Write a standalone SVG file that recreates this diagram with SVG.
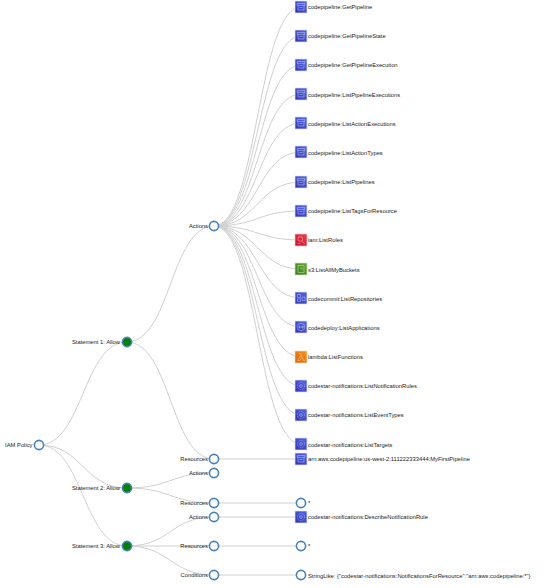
<svg xmlns="http://www.w3.org/2000/svg" width="558" height="588" viewBox="0 0 558 588">
<style>
text{font-family:"Liberation Sans",Arial,sans-serif;font-size:5.8px;fill:#222}
.e{text-anchor:end}
.l{fill:none;stroke:#d0d0d0;stroke-width:1}
.n{fill:#fff;stroke:#4682b4;stroke-width:1.6}
.g{fill:#008000;stroke:#4682b4;stroke-width:1.6}
.i{fill:none;stroke:#fff;stroke-width:.6;opacity:.6}
.b{stroke:#dfe3f7;stroke-width:.7}
</style>
<defs>
<linearGradient id="gb" x1="0" y1="1" x2="1" y2="0"><stop offset="0" stop-color="#3234b0"/><stop offset="1" stop-color="#5468e4"/></linearGradient>
<linearGradient id="gr" x1="0" y1="1" x2="1" y2="0"><stop offset="0" stop-color="#bd0f2a"/><stop offset="1" stop-color="#f2404f"/></linearGradient>
<linearGradient id="gg" x1="0" y1="1" x2="1" y2="0"><stop offset="0" stop-color="#3a7f1a"/><stop offset="1" stop-color="#63a830"/></linearGradient>
<linearGradient id="go" x1="0" y1="1" x2="1" y2="0"><stop offset="0" stop-color="#d85f0c"/><stop offset="1" stop-color="#f6961a"/></linearGradient>
<g id="pipe"><rect class="b" x="-6" y="-6" width="12" height="12" fill="url(#gb)"/><path class="i" d="M-3.800-3.500h7.600v1.800h-7.600zM-3-1.700v4.700h6v-4.700M-1.500.5h3"/></g>
<g id="star"><rect class="b" x="-6" y="-6" width="12" height="12" fill="url(#gb)"/><circle class="i" cx="0" cy="0" r="3.600" stroke-dasharray="1 .8"/><circle class="i" cx="0" cy="0" r="1.400"/></g>
<g id="commit"><rect class="b" x="-6" y="-6" width="12" height="12" fill="url(#gb)"/><path class="i" d="M-3.500-3.500h3v3h-3zM1-1h3v3.500h-3zM-3.500 1h3v2.500h-3z"/></g>
<g id="deploy"><rect class="b" x="-6" y="-6" width="12" height="12" fill="url(#gb)"/><circle class="i" cx="0" cy="0" r="3.800"/><path class="i" d="M-1.500-1.500v3M1.500-1.500v3M-3 0h6"/></g>
<g id="iam"><rect stroke="#f6c4c8" stroke-width=".7" x="-6" y="-6" width="12" height="12" fill="url(#gr)"/><circle class="i" cx="-.8" cy="-1" r="2.400"/><path class="i" d="M.8 1l3 3M-3.500 3.500h3"/></g>
<g id="s3"><rect stroke="#cfe3bf" stroke-width=".7" x="-6" y="-6" width="12" height="12" fill="url(#gg)"/><path class="i" d="M-3-3.500h6v7h-6zM-1-1.500l3 1.500"/></g>
<g id="lam"><rect stroke="#fbd9ac" stroke-width=".7" x="-6" y="-6" width="12" height="12" fill="url(#go)"/><path class="i" d="M-2-3.500h1.500l3 7h1.500M-.5-1l-3 4.500h2.500l1.500-2.500"/></g>
</defs>
<g id="connectors">
<path class="l" d="M39 445C83 445 83 342 127 342"/>
<path class="l" d="M39 445C83 445 83 488 127 488"/>
<path class="l" d="M39 445C83 445 83 546 127 546"/>
<path class="l" d="M127 342C170.500 342 170.500 226 214 226"/>
<path class="l" d="M127 342C170.500 342 170.500 459 214 459"/>
<path class="l" d="M127 488C170.500 488 170.500 473 214 473"/>
<path class="l" d="M127 488C170.500 488 170.500 503 214 503"/>
<path class="l" d="M127 546C170.500 546 170.500 517 214 517"/>
<path class="l" d="M127 546H214"/>
<path class="l" d="M127 546C170.500 546 170.500 575 214 575"/>
<path class="l" d="M214 226C257.500 226 257.500 7 301 7"/>
<path class="l" d="M214 226C257.500 226 257.500 36 301 36"/>
<path class="l" d="M214 226C257.500 226 257.500 65 301 65"/>
<path class="l" d="M214 226C257.500 226 257.500 94 301 94"/>
<path class="l" d="M214 226C257.500 226 257.500 123 301 123"/>
<path class="l" d="M214 226C257.500 226 257.500 152 301 152"/>
<path class="l" d="M214 226C257.500 226 257.500 182 301 182"/>
<path class="l" d="M214 226C257.500 226 257.500 211 301 211"/>
<path class="l" d="M214 226C257.500 226 257.500 240 301 240"/>
<path class="l" d="M214 226C257.500 226 257.500 269 301 269"/>
<path class="l" d="M214 226C257.500 226 257.500 298 301 298"/>
<path class="l" d="M214 226C257.500 226 257.500 327 301 327"/>
<path class="l" d="M214 226C257.500 226 257.500 357 301 357"/>
<path class="l" d="M214 226C257.500 226 257.500 386 301 386"/>
<path class="l" d="M214 226C257.500 226 257.500 415 301 415"/>
<path class="l" d="M214 226C257.500 226 257.500 444 301 444"/>
<path class="l" d="M214 459H301"/>
<path class="l" d="M214 503H301"/>
<path class="l" d="M214 517H301"/>
<path class="l" d="M214 546H301"/>
<path class="l" d="M214 575H301"/>
</g>
<g id="root"><circle class="n" cx="39" cy="445" r="4.600"/><text class="e" x="32.500" y="447">IAM Policy</text></g>
<g id="st1"><circle class="g" cx="127" cy="342" r="4.600"/><text class="e" x="120" y="344">Statement 1: Allow</text></g>
<g id="st2"><circle class="g" cx="127" cy="488" r="4.600"/><text class="e" x="120" y="490">Statement 2: Allow</text></g>
<g id="st3"><circle class="g" cx="127" cy="546" r="4.600"/><text class="e" x="120" y="548">Statement 3: Allow</text></g>
<g id="a1"><circle class="n" cx="214" cy="226" r="4.600"/><text class="e" x="208" y="228">Actions</text></g>
<g id="r1"><circle class="n" cx="214" cy="459" r="4.600"/><text class="e" x="208" y="461">Resources</text></g>
<g id="a2"><circle class="n" cx="214" cy="473" r="4.600"/><text class="e" x="208" y="475">Actions</text></g>
<g id="r2"><circle class="n" cx="214" cy="503" r="4.600"/><text class="e" x="208" y="505">Resources</text></g>
<g id="a3"><circle class="n" cx="214" cy="517" r="4.600"/><text class="e" x="208" y="519">Actions</text></g>
<g id="r3"><circle class="n" cx="214" cy="546" r="4.600"/><text class="e" x="208" y="548">Resources</text></g>
<g id="c3"><circle class="n" cx="214" cy="575" r="4.600"/><text class="e" x="208" y="577">Conditions</text></g>
<g id="l1"><use href="#pipe" x="301" y="7"/><text x="308" y="9">codepipeline:GetPipeline</text></g>
<g id="l2"><use href="#pipe" x="301" y="36"/><text x="308" y="38">codepipeline:GetPipelineState</text></g>
<g id="l3"><use href="#pipe" x="301" y="65"/><text x="308" y="67">codepipeline:GetPipelineExecution</text></g>
<g id="l4"><use href="#pipe" x="301" y="94"/><text x="308" y="97">codepipeline:ListPipelineExecutions</text></g>
<g id="l5"><use href="#pipe" x="301" y="123"/><text x="308" y="126">codepipeline:ListActionExecutions</text></g>
<g id="l6"><use href="#pipe" x="301" y="152"/><text x="308" y="155">codepipeline:ListActionTypes</text></g>
<g id="l7"><use href="#pipe" x="301" y="182"/><text x="308" y="184">codepipeline:ListPipelines</text></g>
<g id="l8"><use href="#pipe" x="301" y="211"/><text x="308" y="213">codepipeline:ListTagsForResource</text></g>
<g id="l9"><use href="#iam" x="301" y="240"/><text x="308" y="242">iam:ListRoles</text></g>
<g id="l10"><use href="#s3" x="301" y="269"/><text x="308" y="272">s3:ListAllMyBuckets</text></g>
<g id="l11"><use href="#commit" x="301" y="298"/><text x="308" y="301">codecommit:ListRepositories</text></g>
<g id="l12"><use href="#deploy" x="301" y="327"/><text x="308" y="330">codedeploy:ListApplications</text></g>
<g id="l13"><use href="#lam" x="301" y="357"/><text x="308" y="359">lambda:ListFunctions</text></g>
<g id="l14"><use href="#star" x="301" y="386"/><text x="308" y="388">codestar-notifications:ListNotificationRules</text></g>
<g id="l15"><use href="#star" x="301" y="415"/><text x="308" y="417">codestar-notifications:ListEventTypes</text></g>
<g id="l16"><use href="#star" x="301" y="444"/><text x="308" y="447">codestar-notifications:ListTargets</text></g>
<g id="l17"><use href="#pipe" x="301" y="459"/><text x="308" y="461">arn:aws:codepipeline:us-west-2:111222333444:MyFirstPipeline</text></g>
<g id="l18"><circle class="n" cx="301" cy="503" r="4.600"/><text x="308" y="505">*</text></g>
<g id="l19"><use href="#star" x="301" y="517"/><text x="308" y="519">codestar-notifications:DescribeNotificationRule</text></g>
<g id="l20"><circle class="n" cx="301" cy="546" r="4.600"/><text x="308" y="548">*</text></g>
<g id="l21"><circle class="n" cx="301" cy="575" r="4.600"/><text x="308" y="578">StringLike: {"codestar-notifications:NotificationsForResource":"arn:aws:codepipeline:*"}</text></g>
</svg>
